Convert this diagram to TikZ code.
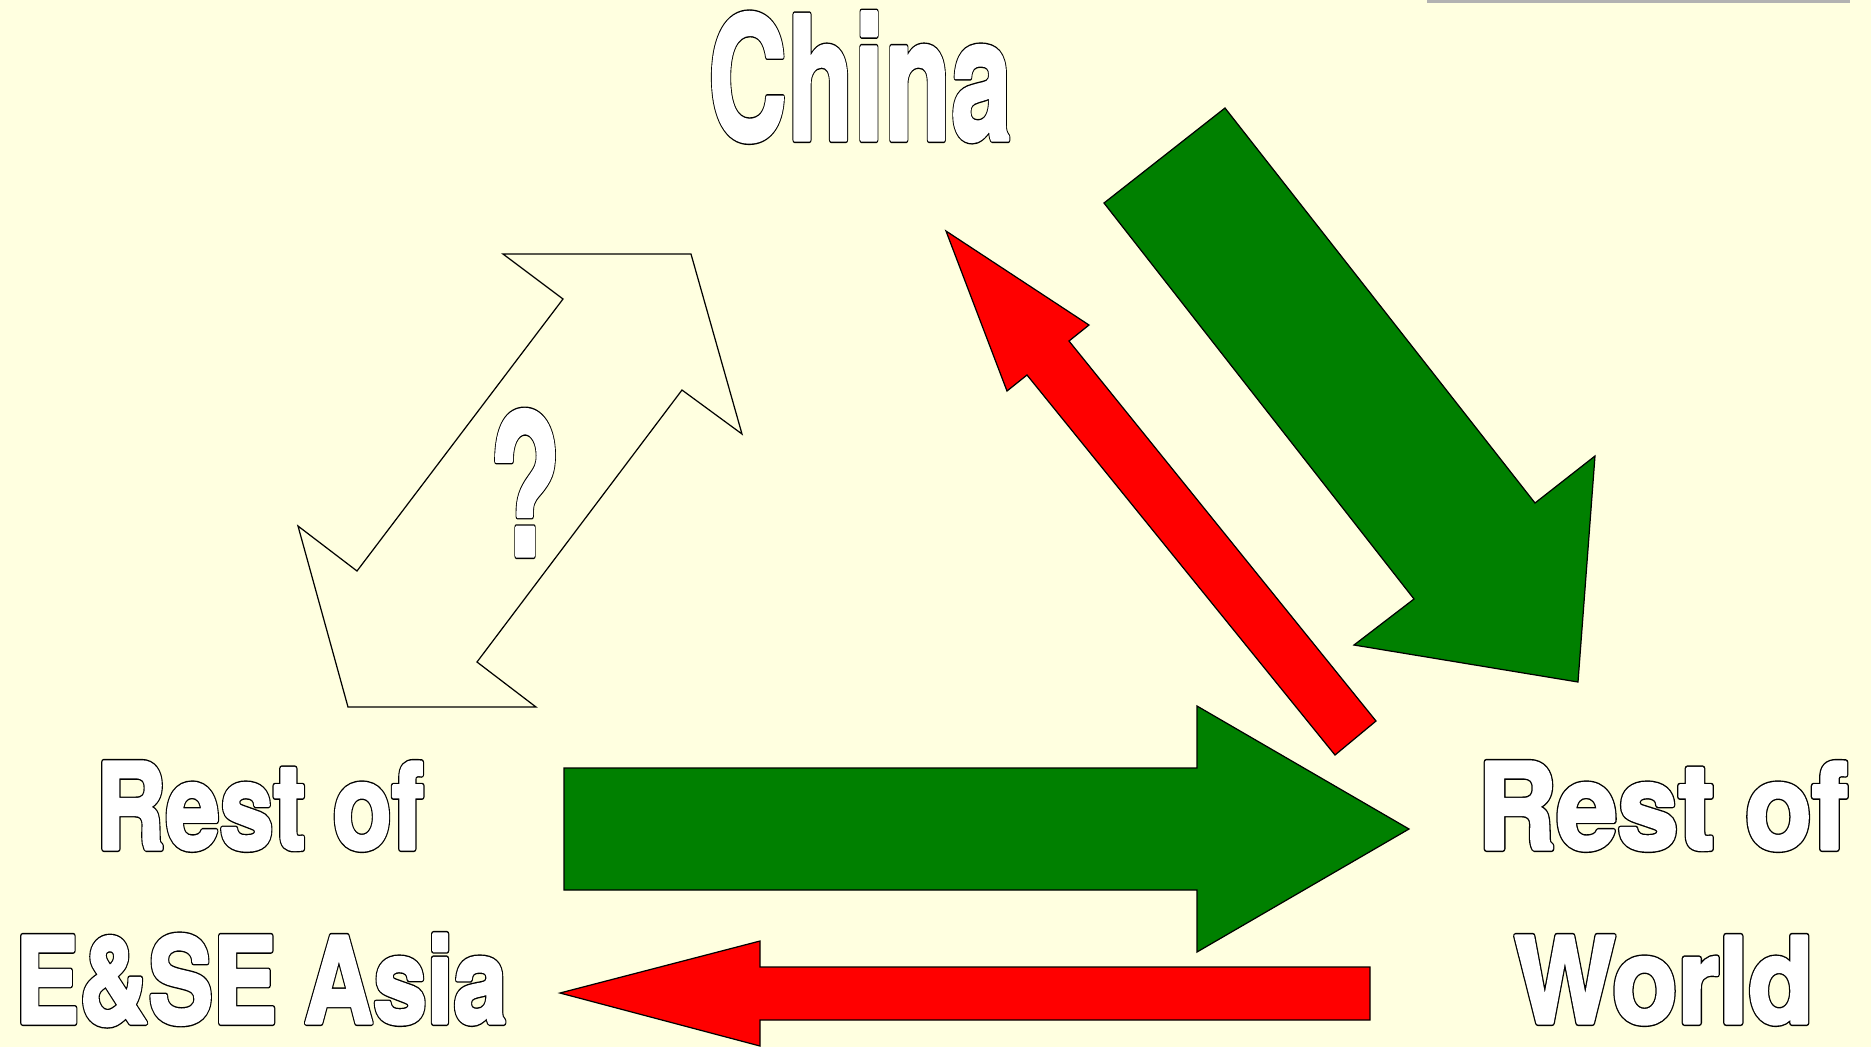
\documentclass[tikz,border=0pt]{standalone}
\usepackage{fontspec}
\newfontfamily\wafont{texgyreheros-bold.otf}
\usepackage{graphicx}
\usetikzlibrary{arrows}
\definecolor{bgyellow}{HTML}{FFFFE0}
\definecolor{pptgreen}{HTML}{008000}
\definecolor{pptred}{HTML}{FF0000}
\definecolor{bargray}{HTML}{B2B2B2}
\tikzstyle{block}=[draw=black, line width=0.35pt, line join=miter]
\tikzstyle{word}=[text=white, inner sep=0, outer sep=0, anchor=base]
\tikzstyle{bigword}=[word, font=\wafont\fontsize{49}{59}\selectfont]
\tikzstyle{smallword}=[word, font=\wafont\fontsize{34}{41}\selectfont]
\newcommand{\outl}[2]{\scalebox{#1}[1]{\rlap{\special{pdf:literal direct 0 G 1 j 1 Tr 1.7 w}#2}%
    \special{pdf:literal direct 1 G 1 j 2 Tr 0.9 w}#2\special{pdf:literal direct 0 Tr}}}

\begin{document}
\begin{tikzpicture}[x=0.01cm,y=-0.01cm]
        \fill[bgyellow] (0,0) rectangle (1871,1047);
        \useasboundingbox (0,0) rectangle (1871,1047);
        \fill[bargray] (1427,0) rectangle (1850,3);

        \node [bigword] (china) at (860,140) {\outl{0.635}{China}};
        \node [smallword] (resta) at (260,849) {\outl{0.81}{Rest of}};
        \node [smallword] (asia) at (261,1023) {\outl{0.805}{E\&SE Asia}};
        \node [smallword] (restw) at (1663,849) {\outl{0.915}{Rest of}};
        \node [smallword] (world) at (1664,1023) {\outl{0.895}{World}};

        \draw[block] (691,254) -- (742,434) -- (682,390) -- (477,662) -- (536,707)
            -- (348,707) -- (298,526) -- (357,571) -- (563,299) -- (503,254) -- cycle;
        \node [word, font=\wafont\fontsize{56}{67}\selectfont] (quest) at (525,556) {\outl{0.6}{?}};

        \draw[block, fill=pptgreen] (1104,203) -- (1414,599) -- (1354,645) -- (1578,682)
            -- (1595,456) -- (1535,503) -- (1225,108) -- cycle;
        \draw[block, fill=pptred] (946,231) -- (1007,391) -- (1027,375) -- (1335,755)
            -- (1376,721) -- (1069,341) -- (1089,325) -- cycle;
        \draw[block, fill=pptgreen] (564,768) -- (1197,768) -- (1197,706) -- (1409,829)
            -- (1197,952) -- (1197,890) -- (564,890) -- cycle;
        \draw[block, fill=pptred] (560,993) -- (760,941) -- (760,967) -- (1370,967)
            -- (1370,1020) -- (760,1020) -- (760,1046) -- cycle;
\end{tikzpicture}
\end{document}
